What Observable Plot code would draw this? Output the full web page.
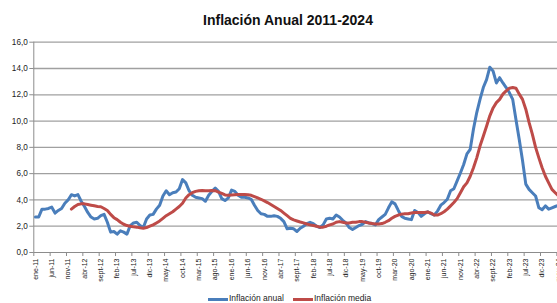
<!DOCTYPE html>
<html><head><meta charset="utf-8">
<script src="https://cdn.jsdelivr.net/npm/d3@7"></script>
<script src="https://cdn.jsdelivr.net/npm/@observablehq/plot@0.6"></script>
<style>
body{margin:0;background:#fff;font-family:"Liberation Sans",Arial,sans-serif;}
#wrap{position:relative;width:557px;height:303px;overflow:hidden;background:#fff;}
#wrap svg{position:absolute;left:0;top:0;}
#title{position:absolute;left:0;width:576px;top:12px;text-align:center;font-weight:bold;font-size:14px;line-height:16px;color:#111;}
.sw{position:absolute;height:3px;width:20px;top:298px;}
.lt{position:absolute;top:294px;font-size:8.5px;line-height:9px;color:#222;white-space:nowrap;}
</style></head><body>
<div id="wrap">
  <div id="title">Inflación Anual 2011-2024</div>
  <div class="sw" style="left:208px;background:#4A7EBB"></div>
  <div class="lt" style="left:229px">Inflación anual</div>
  <div class="sw" style="left:293px;background:#BE4B48"></div>
  <div class="lt" style="left:314px">Inflación media</div>
</div>
<script>
// Month index 0 = ene-11
const tickLabels = ["ene-11","jun-11","nov-11","abr-12","sept-12","feb-13","jul-13","dic-13","may-14","oct-14","mar-15","ago-15","ene-16","jun-16","nov-16","abr-17","sept-17","feb-18","jul-18","dic-18","may-19","oct-19","mar-20","ago-20","ene-21","jun-21","nov-21","abr-22","sept-22","feb-23","jul-23","dic-23","may-24"];
const yTicks = [0,2,4,6,8,10,12,14,16];

// Inflación anual, monthly from ene-11
const inflacionAnual = [
2.7,2.7,3.3,3.3,3.35,3.45,3.0,3.2,3.35,3.75,4.0,4.4,
4.3,4.4,3.9,3.5,3.05,2.7,2.55,2.6,2.8,2.9,2.3,1.55,
1.6,1.4,1.65,1.55,1.4,2.05,2.25,2.3,2.05,1.9,2.55,2.85,
2.9,3.3,3.6,4.3,4.7,4.4,4.55,4.6,4.85,5.55,5.3,4.7,
4.35,4.2,4.15,4.1,3.9,4.35,4.65,4.9,4.65,4.1,3.95,4.15,
4.75,4.65,4.35,4.2,4.2,4.15,4.05,3.6,3.2,2.95,2.9,2.75,
2.75,2.8,2.75,2.6,2.35,1.8,1.85,1.8,1.6,1.85,2.0,2.2,
2.3,2.2,2.0,1.9,2.1,2.55,2.6,2.55,2.85,2.7,2.45,2.25,
1.9,1.75,1.9,2.05,2.15,2.35,2.25,2.2,2.1,2.5,2.7,2.9,
3.4,3.85,3.7,3.2,2.75,2.6,2.55,2.5,3.2,3.05,2.75,2.95,
3.1,2.95,2.85,3.15,3.6,3.8,4.05,4.7,4.85,5.45,6.05,6.7,
7.5,7.85,9.4,10.65,11.65,12.55,13.15,14.1,13.8,12.9,13.3,12.9,
12.55,12.15,11.65,10.1,8.6,7.0,5.2,4.8,4.55,4.3,3.4,3.25,
3.55,3.3,3.4,3.5,3.6,3.7
];

// Inflación media, monthly from nov-11 (index 11)
const mediaStart = 11;
const inflacionMedia = [
3.3,
3.5,3.65,3.7,3.7,3.65,3.6,3.55,3.5,3.48,3.35,3.2,2.9,
2.65,2.5,2.3,2.15,2.05,2.0,1.95,1.93,1.88,1.85,1.9,2.0,
2.1,2.25,2.4,2.6,2.8,2.95,3.1,3.3,3.5,3.75,4.15,4.4,
4.55,4.65,4.7,4.72,4.7,4.7,4.72,4.7,4.6,4.5,4.38,4.35,
4.38,4.4,4.42,4.42,4.42,4.4,4.35,4.25,4.15,4.05,3.93,3.8,
3.65,3.5,3.35,3.2,3.0,2.8,2.6,2.48,2.4,2.32,2.25,2.17,
2.1,2.05,2.0,1.93,1.93,2.0,2.1,2.17,2.3,2.35,2.3,2.25,
2.25,2.3,2.3,2.35,2.35,2.3,2.25,2.2,2.17,2.17,2.2,2.3,
2.42,2.6,2.75,2.85,2.92,2.95,2.95,3.0,3.05,3.05,3.05,3.05,
3.08,3.0,2.85,2.85,2.95,3.1,3.3,3.55,3.8,4.1,4.55,5.0,
5.3,5.8,6.45,7.2,8.1,8.85,9.6,10.4,11.0,11.4,11.65,12.05,
12.3,12.5,12.55,12.5,12.05,11.65,10.9,9.9,9.0,8.0,7.2,6.45,
5.8,5.3,4.8,4.55,4.3,4.1
];

const anualData = inflacionAnual.map((v,i)=>({i: i+0.5, v}));
const mediaData = inflacionMedia.map((v,k)=>({i: mediaStart+k+0.5, v}));
const xTicks = tickLabels.map((_,k)=>k*5);
const fmt = d => d.toFixed(1).replace(".", ",");

const chart = Plot.plot({
  width: 557, height: 290,
  marginLeft: 33.3, marginRight: 0, marginTop: 41.7, marginBottom: 38,
  style: {fontFamily: "'Liberation Sans', Arial, sans-serif", fontSize: "8px", color: "#222", background: "transparent", overflow: "hidden"},
  x: {type: "linear", domain: [0, 160.2]},
  y: {domain: [0, 16]},
  marks: [
    Plot.ruleY(yTicks.filter(v => v > 0), {stroke: "#a0a0a0", strokeWidth: 1.3}),
    Plot.ruleY([0], {stroke: "#8c8c8c", strokeWidth: 1}),
    Plot.ruleX([0], {stroke: "#8c8c8c", strokeWidth: 1}),
    Plot.axisY({ticks: yTicks, tickSize: 4, tickPadding: 2, tickFormat: fmt, stroke: "#8c8c8c", fill: "#222", fontSize: 8.2, label: null}),
    Plot.axisX({ticks: xTicks, tickSize: 4, tickFormat: () => "", stroke: "#8c8c8c", label: null}),
    Plot.axisX({ticks: xTicks.map(t => t + 0.5), tickSize: 0, tickPadding: 6, tickRotate: -90,
      tickFormat: d => tickLabels[Math.round((d - 0.5) / 5)], fill: "#222", fontSize: 7, label: null}),
    Plot.line(anualData, {x: "i", y: "v", stroke: "#4A7EBB", strokeWidth: 3, strokeLinejoin: "round", clip: true}),
    Plot.line(mediaData, {x: "i", y: "v", stroke: "#BE4B48", strokeWidth: 3, strokeLinejoin: "round", clip: true})
  ]
});
document.getElementById("wrap").prepend(chart);
</script>
</body></html>
